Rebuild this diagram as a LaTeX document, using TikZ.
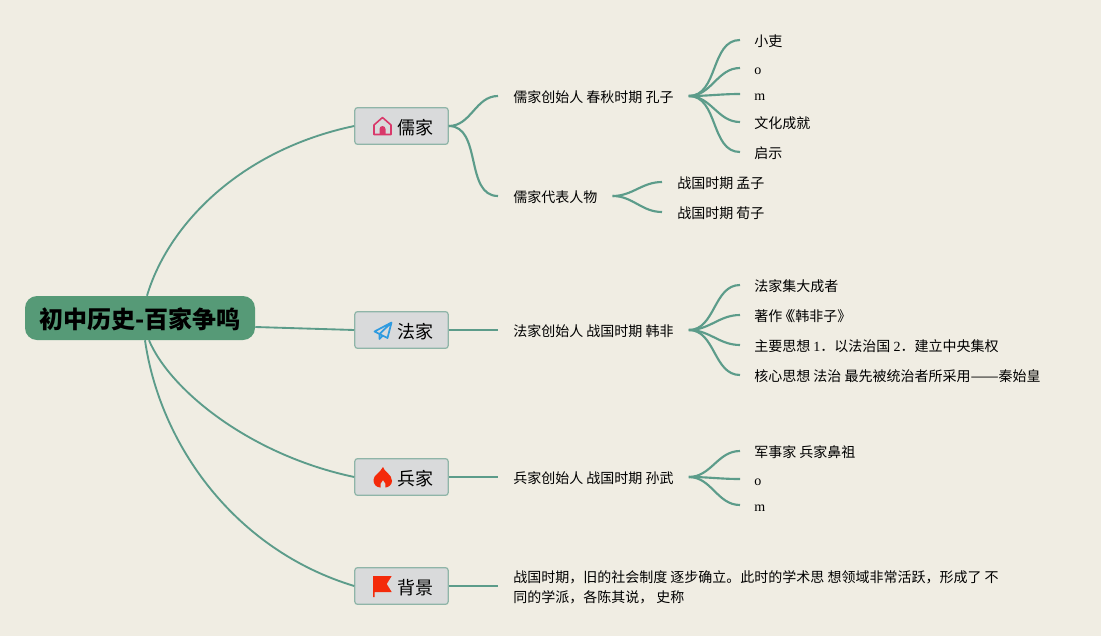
\documentclass[tikz,border=0pt]{standalone}
\usepackage{fontspec}
\setmainfont{Noto Sans CJK SC}
\newfontfamily\latinfont{Liberation Serif}
\definecolor{paper}{HTML}{F0EDE3}
\definecolor{rootgreen}{HTML}{569A77}
\definecolor{linkgreen}{HTML}{5C9C8A}
\definecolor{boxfill}{HTML}{D9DADB}
\definecolor{boxline}{HTML}{8FB5A8}
\definecolor{housepink}{HTML}{D9386A}
\definecolor{planeblue}{HTML}{2F9BE0}
\definecolor{flagred}{HTML}{F42A0A}
\tikzset{
  link/.style={draw=linkgreen,line width=1.4pt},
  thinlink/.style={draw=linkgreen,line width=1.6pt},
  rootbox/.style={fill=rootgreen,rounded corners=9pt,minimum width=172.5pt,minimum height=33pt,inner sep=0pt,text height=18pt,text depth=2pt,font=\fontsize{18}{18}\selectfont\bfseries},
  branchbox/.style={draw=boxline,fill=boxfill,line width=0.9pt,rounded corners=2pt,minimum width=70pt,minimum height=27.5pt,inner sep=0pt,text height=14pt,text depth=1.5pt,font=\fontsize{13.5}{13.5}\selectfont},
  topic/.style={anchor=west,inner xsep=11.25pt,inner ysep=0pt,text height=10pt,text depth=1pt,font=\fontsize{10.5}{15}\selectfont},
  leaf/.style={anchor=west,inner xsep=10.5pt,inner ysep=0pt,text height=10pt,text depth=1pt,font=\fontsize{10.5}{15}\selectfont}
}
\begin{document}
\begin{tikzpicture}[x=0.75pt,y=-0.75pt]
  \useasboundingbox (0,0) rectangle (1101,636);
  \fill[paper] (0,0) rectangle (1101,636);

  \node[rootbox] (root) at (140,318) {初中历史-百家争鸣};

  \node[branchbox] (rujia) at (401.5,126) {\hspace{21.5pt}儒家};
  \node[branchbox] (fajia) at (401.5,330) {\hspace{21.5pt}法家};
  \node[branchbox] (bingjia) at (401.5,477) {\hspace{21.5pt}兵家};
  \node[branchbox] (beijing) at (401.5,586) {\hspace{21.5pt}背景};

  \node[topic] (ruFounder) at (498,96) {儒家创始人 春秋时期 孔子};
  \node[topic] (ruPeople) at (498,196) {儒家代表人物};
  \node[topic] (faFounder) at (498,330) {法家创始人 战国时期 韩非};
  \node[topic] (bingFounder) at (498,477) {兵家创始人 战国时期 孙武};
  \node[anchor=west,inner xsep=11.25pt,inner ysep=0pt,font=\fontsize{10.5}{15}\selectfont,align=left] (bgNote) at (498,587) {战国时期，旧的社会制度 逐步确立。此时的学术思 想领域非常活跃，形成了 不\\同的学派，各陈其说， 史称};

  \node[leaf] (ruA) at (740,40) {小吏};
  \node[leaf] (ruB) at (740,68) {\latinfont o};
  \node[leaf] (ruC) at (740,94) {\latinfont m};
  \node[leaf] (ruD) at (740,122) {文化成就};
  \node[leaf] (ruE) at (740,152) {启示};
  \node[topic] (mengzi) at (662,182) {战国时期 孟子};
  \node[topic] (xunzi) at (662,212) {战国时期 荀子};

  \node[leaf] (faA) at (740,285) {法家集大成者};
  \node[leaf] (faB) at (740,315) {著作\kern-2.75pt《\kern-8.5pt《韩非子》};
  \node[leaf] (faC) at (740,345) {主要思想 {\latinfont 1}．以法治国 {\latinfont 2}．建立中央集权};
  \node[leaf] (faD) at (740,375) {核心思想 法治 最先被统治者所采用\scalebox{1.2}[1]{——}秦始皇};

  \node[leaf] (bingA) at (740,451) {军事家 兵家鼻祖};
  \node[leaf] (bingB) at (740,479) {\latinfont o};
  \node[leaf] (bingC) at (740,505) {\latinfont m};

  % root to the four schools
  \draw[link] ([xshift=5.25pt]root.north) .. controls (168,225) and (240,150) .. (rujia.west);
  \draw[link] ([yshift=-6.75pt]root.east) -- (fajia.west);
  \draw[link] ([xshift=6.75pt]root.south) .. controls (170,390) and (250,455) .. (bingjia.west);
  \draw[link] ([xshift=3.75pt]root.south) .. controls (160,445) and (235,550) .. (beijing.west);

  \draw[thinlink] (rujia.east) to[out=0,in=180] (ruFounder.west);
  \draw[thinlink] (rujia.east) to[out=0,in=180] (ruPeople.west);
  \draw[thinlink] (fajia.east) -- (faFounder.west);
  \draw[thinlink] (bingjia.east) -- (bingFounder.west);
  \draw[thinlink] (beijing.east) -- (beijing.east -| bgNote.west);

  \draw[thinlink] (ruFounder.east) to[out=0,in=180] (ruA.west);
  \draw[thinlink] (ruFounder.east) to[out=0,in=180] (ruB.west);
  \draw[thinlink] (ruFounder.east) to[out=0,in=180] (ruC.west);
  \draw[thinlink] (ruFounder.east) to[out=0,in=180] (ruD.west);
  \draw[thinlink] (ruFounder.east) to[out=0,in=180] (ruE.west);
  \draw[thinlink] (ruPeople.east) to[out=0,in=180] (mengzi.west);
  \draw[thinlink] (ruPeople.east) to[out=0,in=180] (xunzi.west);

  \draw[thinlink] (faFounder.east) to[out=0,in=180] (faA.west);
  \draw[thinlink] (faFounder.east) to[out=0,in=180] (faB.west);
  \draw[thinlink] (faFounder.east) to[out=0,in=180] (faC.west);
  \draw[thinlink] (faFounder.east) to[out=0,in=180] (faD.west);

  \draw[thinlink] (bingFounder.east) to[out=0,in=180] (bingA.west);
  \draw[thinlink] (bingFounder.east) to[out=0,in=180] (bingB.west);
  \draw[thinlink] (bingFounder.east) to[out=0,in=180] (bingC.west);

  % icons
  \draw[housepink,line width=1.2pt,line join=round] (374,125) -- (382.5,117.5) -- (391,125) -- (391,134.5) -- (374,134.5) -- cycle;
  \fill[housepink] (379.5,134.5) -- (379.5,129) arc[start angle=180,end angle=360,radius=3] -- (385.5,134.5) -- cycle;

  \draw[planeblue,line width=1.3pt,line join=round] (391.5,322.5) -- (374.5,331.5) -- (379.5,334) -- cycle
    (391.5,322.5) -- (387.5,338) -- (379.5,334) (379.5,334) -- (379.5,339) -- (382.5,336);

  \fill[flagred] (383,467) .. controls (384,472) and (392,474) .. (392,481) .. controls (392,485) and (388,487.5) .. (385.5,487.5)
    .. controls (386.5,485) and (385,482) .. (383,480) .. controls (381,482) and (379.5,485) .. (380.5,487.5)
    .. controls (376,487.5) and (373.5,484) .. (373.5,480) .. controls (373.5,475) and (380,473) .. (383,467) -- cycle;

  \fill[flagred] (373,576) -- (391.7,576) -- (386.7,584) -- (391.7,592) -- (374.5,592) -- (374.5,597) -- (373,597) -- cycle;
\end{tikzpicture}
\end{document}
